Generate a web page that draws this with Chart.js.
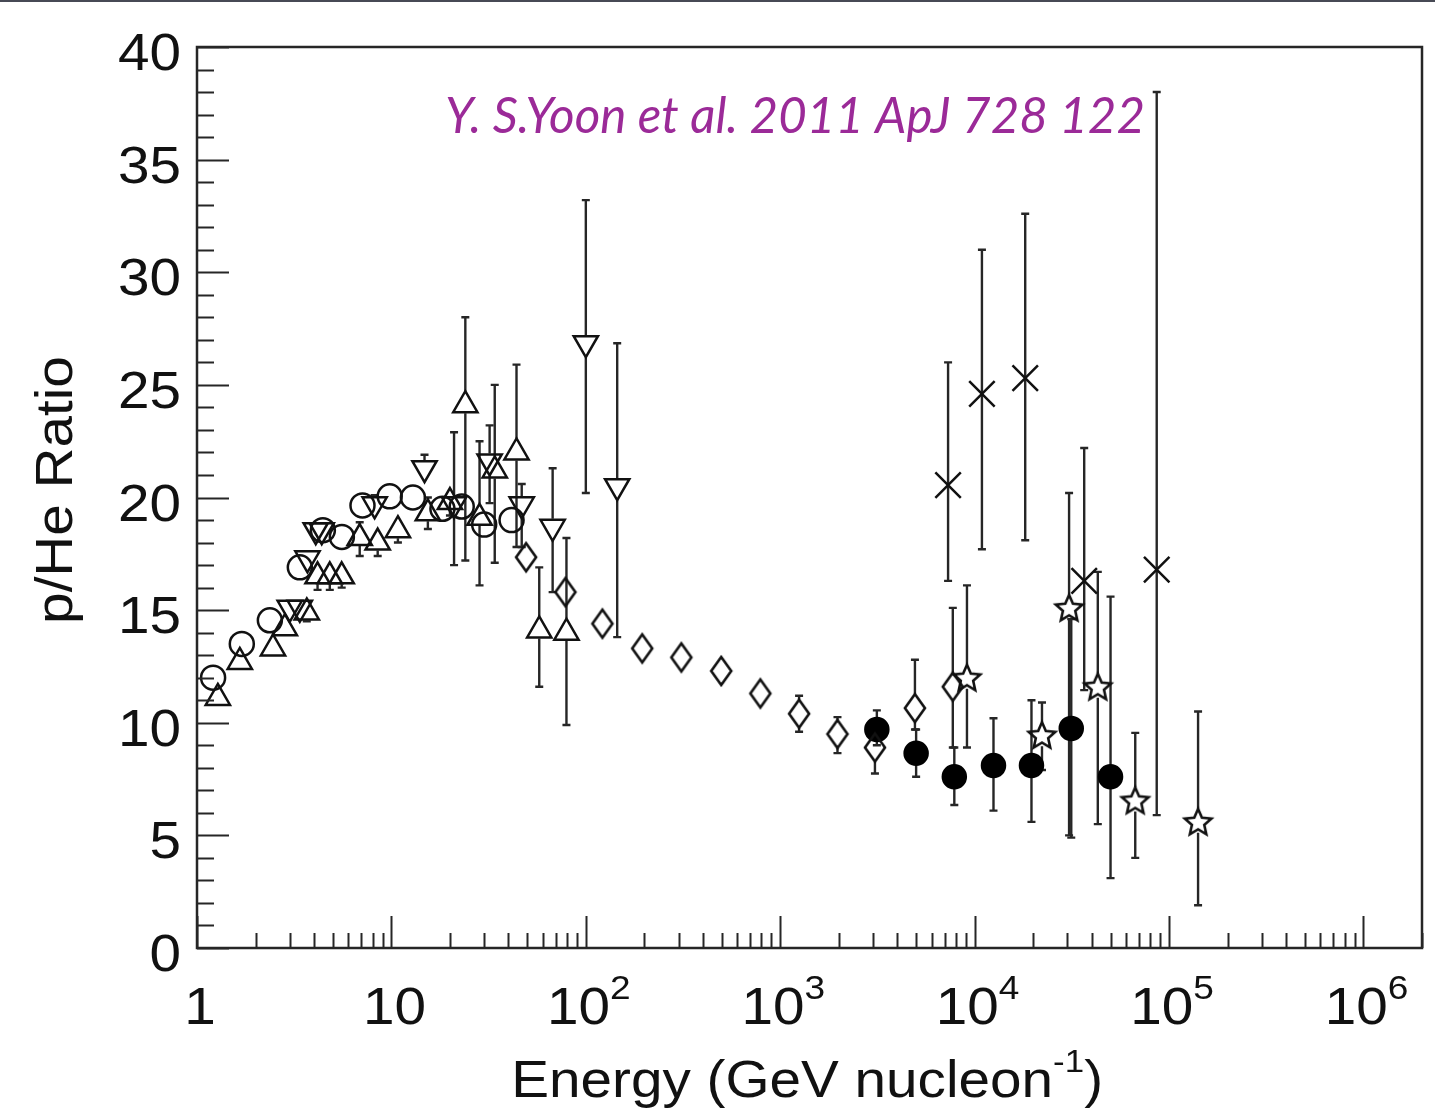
<!DOCTYPE html>
<html>
<head>
<meta charset="utf-8">
<title>p/He Ratio</title>
<script src="https://cdn.jsdelivr.net/npm/chart.js@4.4.1/dist/chart.umd.min.js"></script>
<style>
  html, body { margin: 0; padding: 0; background: #fff; overflow: hidden; }
  #caixa { position: relative; width: 1435px; height: 1110px; }
</style>
</head>
<body>
<div id="caixa"><canvas id="grafico"></canvas></div>
<script>

// Dados --> energia (GeV/nucleon), razão p/He, barras de erro

// circulos abertos
const circE = [1.21, 1.70, 2.37, 3.38, 4.44, 5.56, 7.1, 9.8, 12.9, 18.3, 23, 30, 41.5];
const circR = [12.0, 13.5, 14.55, 16.9, 18.55, 18.25, 19.65, 20.05, 20.0, 19.5, 19.6, 18.8, 19.0];

// triangulos para cima
const triE  = [1.28, 1.66, 2.46, 2.83, 3.67, 4.17, 4.82, 5.55, 6.87, 8.5, 10.8, 15.4, 20, 24, 28.4, 34, 44, 57.6, 79.5];
const triR  = [11.1, 12.7, 13.3, 14.2, 14.9, 16.5, 16.5, 16.5, 18.2, 18.0, 18.55, 19.3, 19.8, 24.1, 19.1, 21.2, 22.0, 14.1, 14.0];
const triLo = [10.9, 12.5, 13.0, 13.9, 14.5, 15.9, 15.9, 16.0, 17.4, 17.4, 18.0, 18.6, 19.2, 17.2, 16.1, 17.1, 17.8, 11.6, 9.9];
const triHi = [11.3, 12.9, 13.6, 14.5, 15.3, 17.0, 17.0, 17.0, 18.9, 18.6, 19.1, 20.0, 20.4, 28.0, 22.5, 25.0, 25.9, 16.9, 18.2];

// triangulos para baixo
const dtriE  = [3.0, 3.38, 3.7, 4.08, 4.38, 8.2, 14.8, 21, 32, 46.8, 67.5, 100, 145];
const dtriR  = [15.1, 15.1, 17.3, 18.55, 18.55, 19.7, 21.3, 19.7, 21.6, 19.7, 18.7, 26.85, 20.5];
const dtriLo = [14.8, 14.8, 17.0, 18.2, 18.2, 19.3, 20.8, 17.0, 19.75, 17.8, 15.8, 20.2, 13.8];
const dtriHi = [15.4, 15.4, 17.6, 18.9, 18.9, 20.1, 21.9, 22.9, 23.2, 20.6, 21.3, 33.2, 26.85];

// losangos
const diaE  = [49.3, 78.5, 121.7, 195, 310, 497, 790, 1250, 1970, 3070, 4930, 7720];
const diaR  = [17.35, 15.8, 14.4, 13.3, 12.9, 12.3, 11.3, 10.4, 9.5, 8.9, 10.65, 11.6];
const diaLo = [17.0, 15.4, 14.1, 13.0, 12.6, 12.0, 11.0, 9.6, 8.65, 7.75, 9.7, 8.9];
const diaHi = [17.7, 16.2, 14.7, 13.6, 13.2, 12.6, 11.6, 11.2, 10.25, 9.5, 12.8, 15.1];

// circulos cheios
const fillE  = [3140, 5000, 7860, 12500, 19600, 31400, 50000];
const fillR  = [9.7, 8.65, 7.6, 8.1, 8.1, 9.75, 7.6];
const fillLo = [9.0, 7.6, 6.35, 6.1, 5.6, 4.9, 3.1];
const fillHi = [10.55, 9.7, 8.9, 10.2, 11.0, 14.6, 15.6];

// cruzes
const crossE  = [7300, 10900, 18200, 36600, 86400];
const crossR  = [20.55, 24.6, 25.3, 16.3, 16.8];
const crossLo = [16.3, 17.7, 18.1, 11.45, 5.9];
const crossHi = [26.0, 31.0, 32.6, 22.2, 38.0];

// estrelas
const starE  = [9130, 22200, 30600, 43000, 67000, 141000];
const starR  = [12.0, 9.45, 15.1, 11.6, 6.55, 5.6];
const starLo = [8.9, 7.9, 5.0, 5.5, 4.0, 1.9];
const starHi = [16.1, 10.9, 20.2, 16.7, 9.55, 10.5];

// Eixos
const xTickVals = [1, 10, 100, 1e3, 1e4, 1e5, 1e6];
const xTickBase = ['1', '10', '10', '10', '10', '10', '10'];
const xTickExp  = ['', '', '2', '3', '4', '5', '6'];
const yTickVals = [0, 5, 10, 15, 20, 25, 30, 35, 40];
const refText = 'Y. S.Yoon et al. 2011 ApJ 728 122';

const FONTE = '"Liberation Sans", Arial, sans-serif';
const ESTICA = 1.09;
const COR_LINHA = '#262626';


function pontos(xs, ys) {
    return xs.map((x, i) => ({ x: x, y: ys[i] }));
}

// marcadores desenhados a mao
function marcaLosango() {
    const c = document.createElement('canvas');
    c.width = 28; c.height = 36;
    const g = c.getContext('2d');
    g.strokeStyle = '#111';
    g.lineWidth = 2.6;
    g.beginPath();
    g.moveTo(14, 4); g.lineTo(24, 18); g.lineTo(14, 32); g.lineTo(4, 18);
    g.closePath();
    g.stroke();
    return c;
}

function marcaEstrela() {
    const c = document.createElement('canvas');
    c.width = 36; c.height = 36;
    const g = c.getContext('2d');
    g.strokeStyle = '#111';
    g.lineWidth = 2.6;
    g.beginPath();
    for (let k = 0; k < 10; k++) {
        const r = k % 2 == 0 ? 14 : 6.5;
        const a = -Math.PI / 2 + k * Math.PI / 5;
        const px = 18 + r * Math.cos(a), py = 19 + r * Math.sin(a);
        if (k == 0) g.moveTo(px, py); else g.lineTo(px, py);
    }
    g.closePath();
    g.stroke();
    return c;
}


const comum = { showLine: false, borderColor: '#111', borderWidth: 2.5, backgroundColor: 'rgba(0,0,0,0)' };

const dados = {
    datasets: [
        { ...comum, label: 'circ', data: pontos(circE, circR), pointStyle: 'circle', pointRadius: 12 },
        { ...comum, label: 'tri', data: pontos(triE, triR), errLo: triLo, errHi: triHi,
          gapUp: 14, gapDown: 8, pointStyle: 'triangle', pointRadius: 14 },
        { ...comum, label: 'dtri', data: pontos(dtriE, dtriR), errLo: dtriLo, errHi: dtriHi,
          gapUp: 8, gapDown: 14, pointStyle: 'triangle', pointRotation: 180, pointRadius: 14 },
        { ...comum, label: 'dia', data: pontos(diaE, diaR), errLo: diaLo, errHi: diaHi,
          gapUp: 14, gapDown: 14, pointStyle: marcaLosango(), pointRadius: 12 },
        { ...comum, label: 'fill', data: pontos(fillE, fillR), errLo: fillLo, errHi: fillHi,
          gapUp: 11, gapDown: 11, pointStyle: 'circle', pointRadius: 11.5, backgroundColor: '#000', borderColor: '#000' },
        { ...comum, label: 'cross', data: pontos(crossE, crossR), errLo: crossLo, errHi: crossHi,
          gapUp: 0, gapDown: 0, pointStyle: 'crossRot', pointRadius: 18 },
        { ...comum, label: 'star', data: pontos(starE, starR), errLo: starLo, errHi: starHi,
          gapUp: 13, gapDown: 11, pointStyle: marcaEstrela(), pointRadius: 12 }
    ]
};


// texto esticado na horizontal
function texto(ctx, str, x, y, size, align) {
    ctx.save();
    ctx.font = size + 'px ' + FONTE;
    ctx.translate(x, y);
    ctx.scale(ESTICA, 1);
    ctx.textAlign = align;
    ctx.textBaseline = 'alphabetic';
    ctx.fillText(str, 0, 0);
    ctx.restore();
}

function largura(ctx, str, size) {
    ctx.font = size + 'px ' + FONTE;
    return ctx.measureText(str).width * ESTICA;
}


const moldura = {
    id: 'moldura',
    beforeDraw(chart) {
        const ctx = chart.ctx;
        ctx.save();
        ctx.fillStyle = '#fff';
        ctx.fillRect(0, 0, chart.width, chart.height);
        ctx.fillStyle = '#474a55';
        ctx.fillRect(0, 0, chart.width, 2);
        ctx.restore();
    },
    beforeDatasetsDraw(chart) {
        // barras de erro
        const ctx = chart.ctx;
        const xs = chart.scales.x, ys = chart.scales.y;
        ctx.save();
        ctx.strokeStyle = COR_LINHA;
        ctx.lineWidth = 2.4;
        chart.data.datasets.forEach(ds => {
            if (!ds.errLo) return;
            ds.data.forEach((p, i) => {
                const px = xs.getPixelForValue(p.x);
                const pc = ys.getPixelForValue(p.y);
                const pHi = ys.getPixelForValue(ds.errHi[i]);
                const pLo = ys.getPixelForValue(ds.errLo[i]);
                ctx.beginPath();
                if (pc - ds.gapUp > pHi) {
                    ctx.moveTo(px, pc - ds.gapUp); ctx.lineTo(px, pHi);
                    ctx.moveTo(px - 4, pHi); ctx.lineTo(px + 4, pHi);
                }
                if (pc + ds.gapDown < pLo) {
                    ctx.moveTo(px, pc + ds.gapDown); ctx.lineTo(px, pLo);
                    ctx.moveTo(px - 4, pLo); ctx.lineTo(px + 4, pLo);
                }
                ctx.stroke();
            });
        });
        ctx.restore();
    },
    afterDatasetsDraw(chart) {
        const ctx = chart.ctx;
        const a = chart.chartArea;
        const xs = chart.scales.x, ys = chart.scales.y;
        ctx.save();
        ctx.strokeStyle = COR_LINHA;
        ctx.lineWidth = 2.5;
        ctx.strokeRect(a.left, a.top, a.right - a.left, a.bottom - a.top);

        // marcas para dentro
        ctx.lineWidth = 2;
        ctx.beginPath();
        for (let v = 0; v <= 40; v++) {
            const py = Math.round(ys.getPixelForValue(v)) + 0.5;
            const len = v % 5 == 0 ? 32 : 17;
            ctx.moveTo(a.left, py); ctx.lineTo(a.left + len, py);
        }
        for (let d = 0; d <= 6; d++) {
            for (let k = 1; k <= 9; k++) {
                const v = k * Math.pow(10, d);
                if (v > xs.max) break;
                const px = Math.round(xs.getPixelForValue(v)) + 0.5;
                const len = k == 1 ? 32 : 15;
                ctx.moveTo(px, a.bottom); ctx.lineTo(px, a.bottom - len);
            }
        }
        ctx.stroke();
        ctx.restore();
    },
    afterDraw(chart) {
        const ctx = chart.ctx;
        const a = chart.chartArea;
        const xs = chart.scales.x, ys = chart.scales.y;
        ctx.save();
        ctx.fillStyle = '#111';

        // rotulos do eixo y
        yTickVals.forEach(v => {
            texto(ctx, String(v), a.left - 16, ys.getPixelForValue(v) + 23, 52, 'right');
        });

        // rotulos do eixo x (com expoente)
        xTickVals.forEach((v, i) => {
            const w1 = largura(ctx, xTickBase[i], 52);
            const w2 = xTickExp[i] ? largura(ctx, xTickExp[i], 34) : 0;
            const x0 = xs.getPixelForValue(v) - (w1 + w2) / 2 + 3;
            texto(ctx, xTickBase[i], x0, a.bottom + 76, 52, 'left');
            if (w2) texto(ctx, xTickExp[i], x0 + w1, a.bottom + 51, 34, 'left');
        });

        // titulo do eixo x
        const t1 = 'Energy (GeV nucleon', t2 = '-1', t3 = ')';
        const wa = largura(ctx, t1, 52), wb = largura(ctx, t2, 32), wc = largura(ctx, t3, 52);
        const xa = 1103 - (wa + wb + wc);
        texto(ctx, t1, xa, 1097, 52, 'left');
        texto(ctx, t2, xa + wa, 1072, 32, 'left');
        texto(ctx, t3, xa + wa + wb, 1097, 52, 'left');

        // titulo do eixo y
        ctx.save();
        ctx.translate(72, 490);
        ctx.rotate(-Math.PI / 2);
        texto(ctx, 'p/He Ratio', 0, 0, 52, 'center');
        ctx.restore();

        // referencia
        ctx.fillStyle = '#9b2a98';
        ctx.font = 'italic 50px Lato, "Open Sans", sans-serif';
        const wr = ctx.measureText(refText).width;
        ctx.translate(445, 133);
        ctx.scale(700 / wr, 1);
        ctx.textAlign = 'left';
        ctx.fillText(refText, 0, 0);
        ctx.restore();
    }
};


new Chart(document.getElementById('grafico'), {
    type: 'scatter',
    data: dados,
    options: {
        responsive: true,
        maintainAspectRatio: false,
        animation: false,
        events: [],
        layout: { autoPadding: false, padding: { left: 197, top: 47, right: 13, bottom: 162 } },
        scales: {
            x: { type: 'logarithmic', min: 1, max: 2e6, display: false },
            y: { type: 'linear', min: 0, max: 40, display: false }
        },
        plugins: {
            legend: { display: false },
            tooltip: { enabled: false }
        }
    },
    plugins: [moldura]
});
</script>
</body>
</html>
